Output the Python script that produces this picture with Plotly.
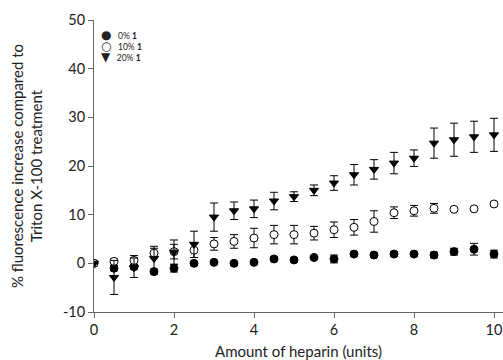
import plotly.graph_objects as go

heparin = [0, 0.5, 1, 1.5, 2, 2.5, 3, 3.5, 4, 4.5, 5, 5.5, 6, 6.5, 7, 7.5, 8, 8.5, 9, 9.5, 10]

pct0 = [0, -1.0, -0.7, -1.7, -1.0, 0.0, 0.2, 0.0, 0.2, 0.9, 0.7, 1.2, 0.9, 1.9, 1.7, 1.9, 1.9, 1.7, 2.4, 2.9, 1.9]
err0 = [0, 0.5, 0.5, 0.5, 0.8, 0.4, 0.4, 0.4, 0.4, 0.4, 0.4, 0.4, 0.8, 0.4, 0.4, 0.5, 0.4, 0.6, 0.7, 1.2, 0.8]

pct10 = [0, 0.4, 0.6, 2.1, 2.4, 2.7, 4.0, 4.5, 5.2, 5.9, 5.9, 6.2, 6.9, 7.4, 8.6, 10.4, 10.8, 11.3, 11.1, 11.2, 12.2]
err10 = [0, 0.5, 1.0, 1.0, 1.5, 1.5, 1.3, 1.4, 2.0, 1.9, 1.9, 1.4, 1.6, 1.6, 2.2, 1.2, 1.1, 1.0, 0.3, 0.3, 0.4]

pct20 = [0, -2.9, -0.9, 1.0, 2.3, 3.9, 9.5, 10.8, 11.2, 12.8, 13.7, 15.0, 16.5, 18.2, 19.3, 20.6, 21.6, 24.7, 25.4, 26.0, 26.4]
err20 = [0, 3.5, 2.0, 2.5, 2.5, 2.7, 2.9, 1.8, 1.8, 1.8, 1.0, 1.1, 1.5, 2.1, 2.0, 2.2, 1.7, 3.1, 3.4, 3.2, 3.4]

names = ["0% <b>1</b>", "10% <b>1</b>", "20% <b>1</b>"]
legend_glyphs = ["●", "○", "▼"]

x_ticks = [0, 2, 4, 6, 8, 10]
y_ticks = [-10, 0, 10, 20, 30, 40, 50]

FONT = "Lato, Noto Sans, sans-serif"

fig = go.Figure()

def add(y, e, name, symbol, fill):
    fig.add_trace(go.Scatter(
        x=heparin, y=y, name=name, mode="markers",
        marker=dict(symbol=symbol, size=8, color=fill, line=dict(color="black", width=1)),
        error_y=dict(type="data", array=e, visible=True, color="black", thickness=1, width=4),
    ))

add(pct0, err0, names[0], "circle", "black")
add(pct10, err10, names[1], "circle", "white")
add(pct20, err20, names[2], "triangle-down", "black")

# compact legend block in the top-left corner of the plot
legend_text = "<br>".join(
    f"<span style='font-family:DejaVu Sans;font-size:12px'>{g}</span>&nbsp;&nbsp;&nbsp;{n}"
    for g, n in zip(legend_glyphs, names)
)
fig.add_annotation(xref="paper", yref="paper", x=0.012, y=0.978, text=legend_text,
                   showarrow=False, xanchor="left", yanchor="top", align="left",
                   font=dict(family=FONT, size=8.5, color="#222"))

fig.update_layout(
    width=503, height=360,
    margin=dict(l=94, r=0, t=20, b=48),
    paper_bgcolor="white", plot_bgcolor="white",
    font=dict(family=FONT, color="#222", size=14),
    showlegend=False,
)
fig.update_xaxes(
    range=[0, 10.225], tickvals=x_ticks, ticktext=[str(v) for v in x_ticks],
    showgrid=False, zeroline=False, showline=True, linecolor="#666", linewidth=1,
    ticks="outside", ticklen=5, tickcolor="#666", tickfont=dict(size=14.5),
    title=dict(text="Amount of heparin (units)", font=dict(size=15), standoff=12),
)
fig.update_yaxes(
    range=[-10, 50], tickvals=y_ticks, ticktext=[str(v) for v in y_ticks],
    showgrid=False, zeroline=False, showline=True, linecolor="#666", linewidth=1,
    ticks="outside", ticklen=5, tickcolor="#666", tickfont=dict(size=14.5),
    title=dict(text="% fluorescence increase compared to<br>Triton X-100 treatment",
               font=dict(size=15), standoff=16),
)

fig.write_html("out.html", config={"displayModeBar": False},
               post_script="document.body.style.margin='0';document.body.style.padding='0';")
